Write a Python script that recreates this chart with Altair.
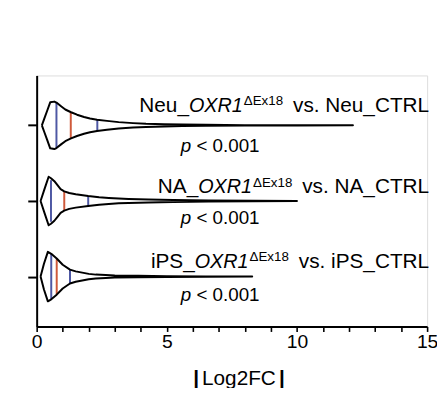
import altair as alt
import pandas as pd

# ---------------- data ----------------
groups = ["Neu", "NA", "iPS"]
row_pos = [3, 2, 1]

neu_val = [0.20, 0.30, 0.40, 0.52, 0.68, 0.76, 0.95, 1.10, 1.32, 1.55, 1.82, 2.05, 2.32, 2.70, 3.15, 3.70, 4.20, 4.90, 5.60, 6.50, 8.00, 10.0, 12.15]
neu_den = [0.0, 0.29, 0.58, 0.93, 0.96, 0.92, 0.76, 0.64, 0.53, 0.43, 0.34, 0.28, 0.23, 0.18, 0.13, 0.09, 0.064, 0.044, 0.032, 0.02, 0.008, 0.004, 0.0]

na_val = [0.15, 0.30, 0.46, 0.55, 0.68, 0.80, 0.92, 1.06, 1.25, 1.50, 1.98, 2.40, 2.77, 3.15, 3.53, 4.29, 5.24, 6.60, 8.30, 10.0]
na_den = [0.0, 0.48, 0.98, 0.92, 0.80, 0.64, 0.48, 0.39, 0.32, 0.27, 0.20, 0.15, 0.12, 0.096, 0.08, 0.06, 0.04, 0.02, 0.008, 0.0]

ips_val = [0.15, 0.28, 0.43, 0.56, 0.77, 1.00, 1.28, 1.50, 1.75, 2.00, 2.27, 2.65, 3.00, 3.90, 5.00, 6.50, 8.28]
ips_den = [0.0, 0.52, 1.0, 0.92, 0.73, 0.48, 0.28, 0.21, 0.16, 0.11, 0.08, 0.06, 0.04, 0.032, 0.016, 0.008, 0.0]

# quartile lines: Q1, median, Q3 and the violin density at each
q_val = {"Neu": [0.76, 1.31, 2.33], "NA": [0.55, 1.06, 1.98], "iPS": [0.56, 0.77, 1.28]}
q_den = {"Neu": [0.92, 0.53, 0.23], "NA": [0.84, 0.39, 0.20], "iPS": [0.92, 0.73, 0.28]}
q_kind = ["quartile", "median", "quartile"]

label_prefix = ["Neu_", "NA_", "iPS_"]
label_gene = "OXR1"
label_sup = "\u0394Ex18"
label_suffix = ["vs. Neu_CTRL", "vs. NA_CTRL", "vs. iPS_CTRL"]
p_italic = "p"
p_rest = "< 0.001"
x_ticks = list(range(16))
x_title = "Log2FC"

# ---------------- helpers (layout only) ----------------
W = {' ': 278, '.': 278, '_': 556, '<': 584, 'A': 667, 'C': 722, 'E': 667, 'L': 556,
     'N': 722, 'O': 778, 'P': 667, 'R': 722, 'S': 667, 'T': 611, 'X': 667, 'e': 556,
     'i': 222, 'p': 556, 's': 500, 'u': 556, 'v': 500, 'x': 500, '\u0394': 668}


def tw(s, size):
    return sum(W.get(c, 556) for c in s) * size / 1000.0


FONT = "Liberation Sans"
BLUE = "#4e58a4"
RED = "#cf5a3b"
K = 0.327  # half-width of the widest violin in y units

# violin outline: top side left->right, then bottom side right->left
vrows = []
for g, pos, vals, dens in [("Neu", 3, neu_val, neu_den), ("NA", 2, na_val, na_den), ("iPS", 1, ips_val, ips_den)]:
    n = len(vals)
    for i, (v, d) in enumerate(zip(vals, dens)):
        vrows.append({"group": g, "pos": pos, "value": v, "dens": d, "side": 1, "seq": i})
        vrows.append({"group": g, "pos": pos, "value": v, "dens": d, "side": -1, "seq": 2 * n - 1 - i})
vdf = pd.DataFrame(vrows)

qrows = []
for g, pos in zip(groups, row_pos):
    for v, d, k in zip(q_val[g], q_den[g], q_kind):
        qrows.append({"group": g, "pos": pos, "value": v, "dens": d, "kind": k})
qdf = pd.DataFrame(qrows)

xscale = alt.Scale(domain=[0, 15], nice=False, zero=False)
yscale = alt.Scale(domain=[0.34, 3.66], nice=False, zero=False)

xaxis = alt.Axis(values=x_ticks, labelExpr="datum.value % 5 === 0 ? datum.label : ''",
                 tickSize=5, tickWidth=1.6, domainWidth=2.2, labelPadding=1,
                 labelFont=FONT, labelFontSize=19.5, labelColor="black", labelOverlap=False,
                 labelBound=False, labelFlush=False,
                 tickColor="black", domainColor="black", grid=False, title=None)
yaxis = alt.Axis(values=[1, 2, 3], labels=False, tickSize=9, tickWidth=2, domainWidth=2,
                 tickColor="black", domainColor="black", grid=False, title=None)


def X(field):
    return alt.X(field, scale=xscale, axis=xaxis)


def Y(field):
    return alt.Y(field, scale=yscale, axis=yaxis)


rules = alt.Chart(qdf).transform_calculate(
    lo=f"datum.pos - datum.dens * {K}", hi=f"datum.pos + datum.dens * {K}"
).mark_rule(strokeWidth=2).encode(
    x=X("value:Q"),
    y=Y("lo:Q"),
    y2="hi:Q",
    color=alt.Color("kind:N", scale=alt.Scale(domain=["quartile", "median"], range=[BLUE, RED]), legend=None),
)

violin = alt.Chart(vdf).transform_calculate(
    yy=f"datum.pos + datum.side * datum.dens * {K}"
).mark_line(color="black", strokeWidth=2, strokeJoin="round", interpolate="linear").encode(
    x=X("value:Q"),
    y=Y("yy:Q"),
    detail="group:N",
    order="seq:Q",
)

layers = [rules, violin]

FS = 21
FS_IT = 20
SS = 13.5
main_dy = [-14, -8, -9]
p_dy = [26.5, 23, 24.5]
P_FS = 19

for i, (pos, pre, suf) in enumerate(zip(row_pos, label_prefix, label_suffix)):
    one = pd.DataFrame({"x": [15], "y": [pos]})
    dx_suf = 2
    dx_sup = dx_suf - tw(suf, FS) - 10
    dx_it = dx_sup - tw(label_sup, SS) - 1
    dx_pre = dx_it - tw(label_gene, FS_IT)
    base = alt.Chart(one).encode(x=X("x:Q"), y=Y("y:Q"))
    layers.append(base.mark_text(align="right", baseline="alphabetic", dx=dx_suf, dy=main_dy[i],
                                 font=FONT, fontSize=FS, color="black").encode(text=alt.value(suf)))
    layers.append(base.mark_text(align="right", baseline="alphabetic", dx=dx_sup, dy=main_dy[i] - 6.5,
                                 font=FONT, fontSize=SS, color="black").encode(text=alt.value(label_sup)))
    layers.append(base.mark_text(align="right", baseline="alphabetic", dx=dx_it, dy=main_dy[i],
                                 font=FONT, fontSize=FS_IT, fontStyle="italic", color="black").encode(text=alt.value(label_gene)))
    layers.append(base.mark_text(align="right", baseline="alphabetic", dx=dx_pre, dy=main_dy[i],
                                 font=FONT, fontSize=FS, color="black").encode(text=alt.value(pre)))

    pone = pd.DataFrame({"x": [7.05], "y": [pos]})
    pbase = alt.Chart(pone).encode(x=X("x:Q"), y=Y("y:Q"))
    total = tw(p_italic + " " + p_rest, P_FS)
    layers.append(pbase.mark_text(align="left", baseline="alphabetic", dx=-total / 2, dy=p_dy[i],
                                  font=FONT, fontSize=P_FS, fontStyle="italic", color="black").encode(text=alt.value(p_italic)))
    layers.append(pbase.mark_text(align="left", baseline="alphabetic", dx=-total / 2 + tw(p_italic + " ", P_FS), dy=p_dy[i],
                                  font=FONT, fontSize=P_FS, color="black").encode(text=alt.value(p_rest)))

# axis title |Log2FC|
tdf = pd.DataFrame({"x": [7.77]})
tbase = alt.Chart(tdf).encode(x=X("x:Q"), y=alt.value(313))
layers.append(tbase.mark_text(align="center", baseline="alphabetic", font=FONT, fontSize=21,
                              color="black").encode(text=alt.value(x_title)))
layers.append(tbase.mark_text(align="center", baseline="alphabetic", dx=-43.3, font=FONT, fontSize=21,
                              fontWeight="bold", color="black").encode(text=alt.value("|")))
layers.append(tbase.mark_text(align="center", baseline="alphabetic", dx=43.4, font=FONT, fontSize=21,
                              fontWeight="bold", color="black").encode(text=alt.value("|")))

chart = alt.layer(*layers).properties(
    width=395, height=254,
    autosize=alt.AutoSizeParams(type="none"),
    padding={"left": 29, "top": 66, "right": 10, "bottom": 60},
).configure_view(stroke=None).configure(background="white")

chart.save("out.html", embed_options={"renderer": "svg", "actions": False})
